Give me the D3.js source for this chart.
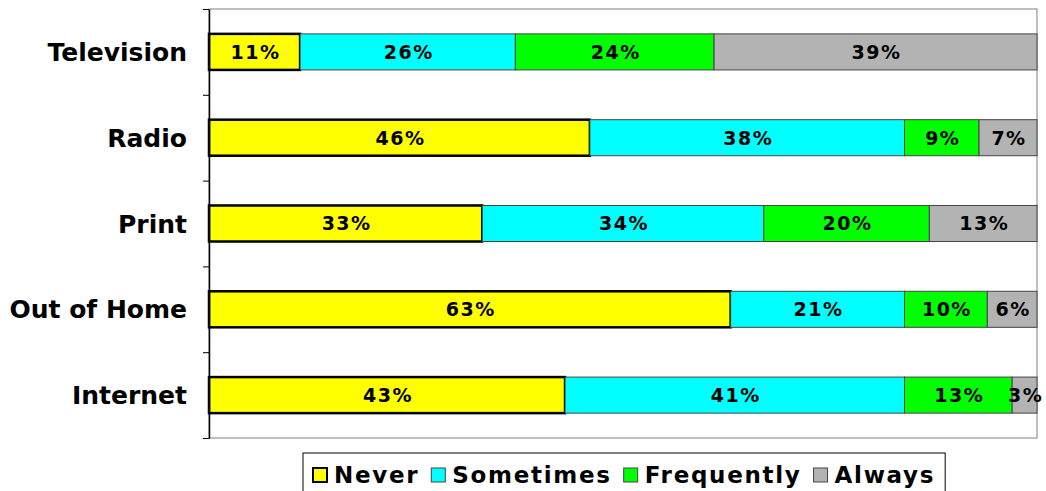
<!DOCTYPE html>
<html>
<head>
<meta charset="utf-8">
<script src="https://cdn.jsdelivr.net/npm/d3@7"></script>
<style>
  body { margin: 0; background: #fff; }
  text { font-family: "DejaVu Sans", Verdana, sans-serif; font-weight: bold; fill: #000; }
</style>
</head>
<body>
<div class="chart-container"></div>
<script>
// Data
var categories = ['Television', 'Radio', 'Print', 'Out of Home', 'Internet'];
var seriesNames = ['Never', 'Sometimes', 'Frequently', 'Always'];
var never = [11, 46, 33, 63, 43];
var sometimes = [26, 38, 34, 21, 41];
var frequently = [24, 9, 20, 10, 13];
var always = [39, 7, 13, 6, 3];
var colors = ['#ffff00', '#00ffff', '#00ff00', '#b3b3b3'];

var width = 1046;
var height = 491;
var plotLeft = 209;
var plotRight = 1037;
var plotTop = 9;
var plotBottom = 438;

var svg = d3.select('.chart-container')
  .append('svg')
  .attr('width', width)
  .attr('height', height);

// build rows for stacking
var rows = categories.map(function (c, i) {
  return { cat: c, Never: never[i], Sometimes: sometimes[i], Frequently: frequently[i], Always: always[i] };
});
var stacked = d3.stack().keys(seriesNames)(rows);

var xScale = d3.scaleLinear().domain([0, 100]).range([plotLeft, plotRight]);
var yScale = d3.scaleBand()
  .domain(categories)
  .range([plotTop, plotBottom])
  .paddingInner(0.58)
  .paddingOuter(0.29);

// Plot area border
svg.append('rect')
  .attr('x', plotLeft)
  .attr('y', plotTop)
  .attr('width', plotRight - plotLeft)
  .attr('height', plotBottom - plotTop)
  .style('fill', 'none')
  .style('stroke', '#808080')
  .style('stroke-width', 1);

// Bars
var layers = svg.selectAll('g.layer')
  .data(stacked)
  .enter()
  .append('g')
  .attr('class', 'layer');

layers.selectAll('rect')
  .data(function (d) { return d.map(function (p) { p.key = d.key; return p; }); })
  .enter()
  .append('rect')
  .attr('x', function (d) { return xScale(d[0]); })
  .attr('y', function (d) { return yScale(d.data.cat); })
  .attr('width', function (d) { return xScale(d[1]) - xScale(d[0]); })
  .attr('height', yScale.bandwidth())
  .style('fill', function (d) { return colors[seriesNames.indexOf(d.key)]; })
  .style('stroke', function (d) { return d.key === 'Never' ? '#000' : '#444'; })
  .style('stroke-width', function (d) { return d.key === 'Never' ? 2.5 : 1; });

// Bar labels
layers.selectAll('text')
  .data(function (d) { return d; })
  .enter()
  .append('text')
  .attr('x', function (d) { return (xScale(d[0]) + xScale(d[1])) / 2 + 1; })
  .attr('y', function (d) { return yScale(d.data.cat) + yScale.bandwidth() / 2; })
  .attr('dy', '0.36em')
  .attr('text-anchor', 'middle')
  .style('font-size', '19px')
  .style('letter-spacing', '1.5px')
  .text(function (d) { return (d[1] - d[0]) + '%'; });

// Y axis with ticks between categories
var tickScale = d3.scaleLinear().domain([0, categories.length]).range([plotBottom, plotTop]);
var yAxis = d3.axisLeft(tickScale)
  .tickValues(d3.range(categories.length + 1))
  .tickFormat('')
  .tickSize(6)
  .tickSizeOuter(0);

svg.append('g')
  .attr('transform', 'translate(' + plotLeft + ',0)')
  .call(yAxis)
  .call(function (g) {
    g.selectAll('line').style('stroke', '#000');
    g.select('.domain').style('stroke', '#000').style('stroke-width', 1.5);
  });

// Category labels
svg.selectAll('text.cat')
  .data(categories)
  .enter()
  .append('text')
  .attr('class', 'cat')
  .attr('x', 187)
  .attr('y', function (d) { return yScale(d) + yScale.bandwidth() / 2; })
  .attr('dy', '0.36em')
  .attr('text-anchor', 'end')
  .style('font-size', '25px')
  .text(function (d) { return d; });

// Legend
var legend = svg.append('g');
var legendBox = legend.append('rect')
  .attr('x', 303)
  .attr('y', 453)
  .attr('height', 45)
  .style('fill', '#fff')
  .style('stroke', '#000')
  .style('stroke-width', 1);

var lx = 313;
seriesNames.forEach(function (name, i) {
  legend.append('rect')
    .attr('x', lx)
    .attr('y', 468)
    .attr('width', 14)
    .attr('height', 14)
    .style('fill', colors[i])
    .style('stroke', i === 0 ? '#000' : '#444')
    .style('stroke-width', i === 0 ? 2 : 1);
  var t = legend.append('text')
    .attr('x', lx + 21)
    .attr('y', 483)
    .style('font-size', '23px')
    .style('letter-spacing', '1.7px')
    .text(name);
  lx = lx + 21 + t.node().getComputedTextLength() + 12;
});
legendBox.attr('width', lx - 303 - 2);
</script>
</body>
</html>
